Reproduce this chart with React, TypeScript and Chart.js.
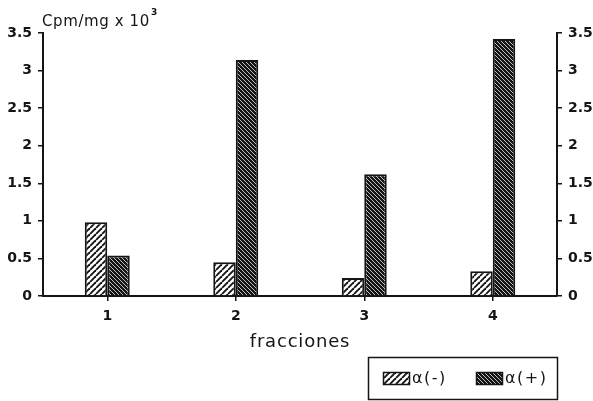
import React, { useEffect, useRef } from "react";
import { Chart, registerables } from "chart.js";

Chart.register(...registerables);

const categories = ["1", "2", "3", "4"];
const seriesNames = ["α(-)", "α(+)"];
const alphaMinus = [0.98, 0.45, 0.24, 0.33];
const alphaPlus = [0.54, 3.14, 1.62, 3.42];
const yTicks = [0, 0.5, 1, 1.5, 2, 2.5, 3, 3.5];
const yTickLabels = ["0", "0.5", "1", "1.5", "2", "2.5", "3", "3.5"];
const yAxisTitle = "Cpm/mg x 10";
const yAxisTitleSup = "3";
const xAxisTitle = "fracciones";

const INK = "#151515";

function makePattern(ctx: CanvasRenderingContext2D, kind: "minus" | "plus") {
  const s = kind === "minus" ? 6 : 4;
  const c = document.createElement("canvas");
  c.width = s;
  c.height = s;
  const g = c.getContext("2d")!;
  if (kind === "minus") {
    g.fillStyle = "#fff";
    g.fillRect(0, 0, s, s);
    g.strokeStyle = INK;
    g.lineWidth = 1.9;
    for (const o of [-s, 0, s]) {
      g.beginPath();
      g.moveTo(o, s);
      g.lineTo(o + s, 0);
      g.stroke();
    }
  } else {
    g.fillStyle = INK;
    g.fillRect(0, 0, s, s);
    g.strokeStyle = "#eeeeee";
    g.lineWidth = 0.8;
    for (const o of [-s, 0, s]) {
      g.beginPath();
      g.moveTo(o, 0);
      g.lineTo(o + s, s);
      g.stroke();
    }
  }
  return ctx.createPattern(c, "repeat")!;
}

export default function App() {
  const ref = useRef<HTMLCanvasElement | null>(null);

  useEffect(() => {
    document.body.style.margin = "0";
    const canvas = ref.current!;
    const ctx = canvas.getContext("2d")!;
    const pMinus = makePattern(ctx, "minus");
    const pPlus = makePattern(ctx, "plus");

    const tickFont = { family: "'DejaVu Sans'", weight: "bold" as const, size: 14 };

    const yScale = (position: "left" | "right", width: number) => ({
      type: "linear" as const,
      position,
      min: 0,
      max: 3.5,
      afterBuildTicks: (s: any) => {
        s.ticks = yTicks.map((v) => ({ value: v }));
      },
      afterFit: (s: any) => {
        s.width = width;
      },
      ticks: {
        callback: (v: any) => {
          const i = yTicks.indexOf(Number(v));
          return i >= 0 ? yTickLabels[i] : "";
        },
        font: tickFont,
        color: INK,
        padding: 6,
      },
      grid: {
        drawOnChartArea: false,
        drawTicks: true,
        tickLength: 5,
        color: INK,
        lineWidth: 1.5,
      },
      border: { display: true, color: INK, width: 2 },
    });

    const decor = {
      id: "decor",
      afterDraw(chart: any) {
        const c = chart.ctx as CanvasRenderingContext2D;
        c.save();
        c.fillStyle = INK;
        c.textAlign = "left";
        c.textBaseline = "alphabetic";
        (c as any).letterSpacing = "0.6px";
        c.font = "15px 'DejaVu Sans'";
        c.fillText(yAxisTitle, 42, 26);
        const w = c.measureText(yAxisTitle).width;
        (c as any).letterSpacing = "0px";
        c.font = "bold 9px 'DejaVu Sans'";
        c.fillText(yAxisTitleSup, 42 + w + 1, 15);

        const area = chart.chartArea;
        (c as any).letterSpacing = "0.8px";
        c.font = "18px 'DejaVu Sans'";
        c.textAlign = "center";
        c.textBaseline = "middle";
        c.fillText(xAxisTitle, (area.left + area.right) / 2, 342);

        // legend
        c.lineWidth = 1.5;
        c.strokeStyle = INK;
        c.strokeRect(368.5, 357.5, 189, 42);
        const pats = [pMinus, pPlus];
        const sx = [383, 476];
        c.textAlign = "left";
        c.font = "16px 'DejaVu Sans'";
        (c as any).letterSpacing = "1.5px";
        for (let i = 0; i < 2; i++) {
          c.fillStyle = pats[i];
          c.fillRect(sx[i], 372, 27, 13);
          c.lineWidth = 1.5;
          c.strokeRect(sx[i] + 0.5, 372.5, 26, 12);
          c.fillStyle = INK;
          c.fillText(seriesNames[i], sx[i] + 29, 379);
        }
        c.restore();
      },
    };

    const chart = new Chart(canvas, {
      type: "bar",
      data: {
        labels: categories,
        datasets: [
          {
            label: seriesNames[0],
            data: alphaMinus,
            backgroundColor: pMinus,
            borderColor: INK,
            borderWidth: 2,
            yAxisID: "y",
          },
          {
            label: seriesNames[1],
            data: alphaPlus,
            backgroundColor: pPlus,
            borderColor: INK,
            borderWidth: 2,
            yAxisID: "y",
          },
        ],
      },
      options: {
        responsive: false,
        animation: false,
        devicePixelRatio: 1,
        layout: { padding: { top: 33, left: 0, right: 0, bottom: 0 } },
        datasets: { bar: { categoryPercentage: 0.35, barPercentage: 1 } },
        plugins: { legend: { display: false }, tooltip: { enabled: false }, title: { display: false } },
        scales: {
          x: {
            type: "category",
            offset: true,
            afterFit: (s: any) => {
              s.height = 105;
            },
            ticks: { font: tickFont, color: INK, padding: 7 },
            grid: {
              offset: false,
              drawOnChartArea: false,
              drawTicks: true,
              tickLength: 5,
              color: INK,
              lineWidth: 1.5,
            },
            border: { display: true, color: INK, width: 2 },
          },
          y: yScale("left", 43),
          y2: yScale("right", 36),
        },
      },
      plugins: [decor],
    } as any);

    return () => chart.destroy();
  }, []);

  return (
    <div style={{ width: 593, height: 401, background: "#fff" }}>
      <canvas ref={ref} width={593} height={401} style={{ display: "block" }} />
    </div>
  );
}
